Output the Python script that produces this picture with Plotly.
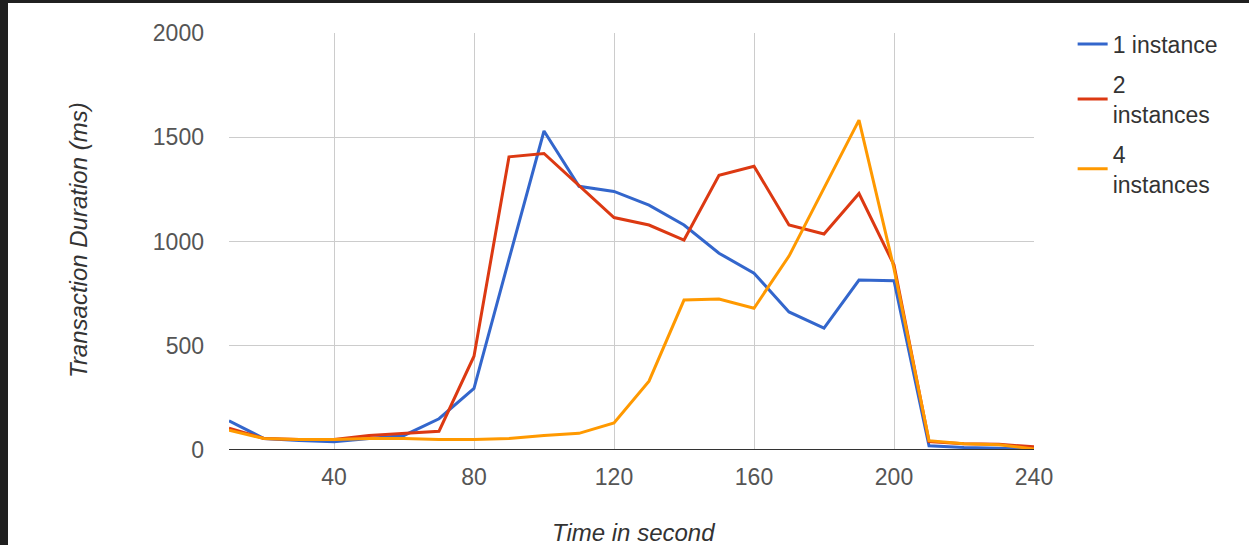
import plotly.graph_objects as go

time_s = [10, 20, 30, 40, 50, 60, 70, 80, 90, 100, 110, 120, 130, 140, 150, 160, 170, 180, 190, 200, 210, 220, 230, 240]
one_instance = [140, 55, 45, 40, 55, 70, 150, 295, 915, 1530, 1265, 1240, 1174, 1079, 944, 848, 662, 585, 815, 812, 20, 12, 8, 5]
two_instances = [105, 55, 50, 50, 70, 80, 90, 450, 1406, 1422, 1268, 1115, 1079, 1007, 1318, 1361, 1079, 1036, 1230, 887, 40, 30, 28, 15]
four_instances = [95, 55, 50, 50, 55, 55, 50, 50, 55, 70, 80, 130, 330, 719, 724, 680, 930, 1256, 1582, 870, 45, 30, 25, 5]

series_names = ["1 instance", "2<br>instances", "4<br>instances"]
series_colors = ["#3366cc", "#dc3912", "#ff9900"]
x_ticks = [40, 80, 120, 160, 200, 240]
y_ticks = [0, 500, 1000, 1500, 2000]

FONT = "Liberation Sans, Arial, sans-serif"

fig = go.Figure()
for i, (name, vals, col) in enumerate(zip(series_names, [one_instance, two_instances, four_instances], series_colors)):
    fig.add_trace(go.Scatter(x=time_s, y=vals, mode="lines", name=name,
                             legendgroup=f"g{i}",
                             line=dict(color=col, width=3)))

L, R, T, B = 229, 215, 33, 95
W, H = 1249, 545
pw, ph = W - L - R, H - T - B

fig.update_layout(
    width=W, height=H,
    margin=dict(l=L, r=R, t=T, b=B),
    paper_bgcolor="white", plot_bgcolor="white",
    font=dict(family=FONT, size=23, color="#444"),
    showlegend=True,
    legend=dict(x=1.048, y=1.025, xanchor="left", yanchor="top",
                font=dict(size=23, color="#333"), tracegroupgap=7,
                bgcolor="rgba(0,0,0,0)"),
    xaxis=dict(range=[10, 240], tickvals=x_ticks, showgrid=True, gridcolor="#cccccc",
               gridwidth=1, zeroline=False, showline=False, ticks="",
               ticklabelstandoff=11, tickfont=dict(size=23, color="#555")),
    yaxis=dict(range=[0, 2000], tickvals=y_ticks, showgrid=True, gridcolor="#cccccc",
               gridwidth=1, zeroline=False, showline=False, ticks="",
               ticklabelstandoff=24, tickfont=dict(size=23, color="#555")),
    shapes=[
        dict(type="line", xref="paper", yref="y", x0=0, x1=1, y0=0, y1=0,
             line=dict(color="#333333", width=2)),
        dict(type="rect", xref="paper", yref="paper", x0=-L / pw - 0.01, x1=(8 - L) / pw,
             y0=-B / ph - 0.01, y1=(H - B) / ph + 0.01, fillcolor="#202020", line=dict(width=0)),
        dict(type="rect", xref="paper", yref="paper", x0=-L / pw - 0.01, x1=(W - L) / pw + 0.01,
             y0=(H - B - 3) / ph, y1=(H - B) / ph + 0.01,
             fillcolor="#202020", line=dict(width=0)),
    ],
    annotations=[
        dict(text="<i>Transaction Duration (ms)</i>", xref="paper", yref="paper",
             x=(78 - L) / pw, y=(450 - 240) / ph, textangle=-90, showarrow=False,
             xanchor="center", yanchor="middle", font=dict(size=24, color="#333")),
        dict(text="<i>Time in second</i>", xref="paper", yref="paper",
             x=(633 - L) / pw, y=(450 - 532) / ph, showarrow=False,
             xanchor="center", yanchor="middle", font=dict(size=24, color="#333")),
    ],
)

fig.write_html("out.html")
